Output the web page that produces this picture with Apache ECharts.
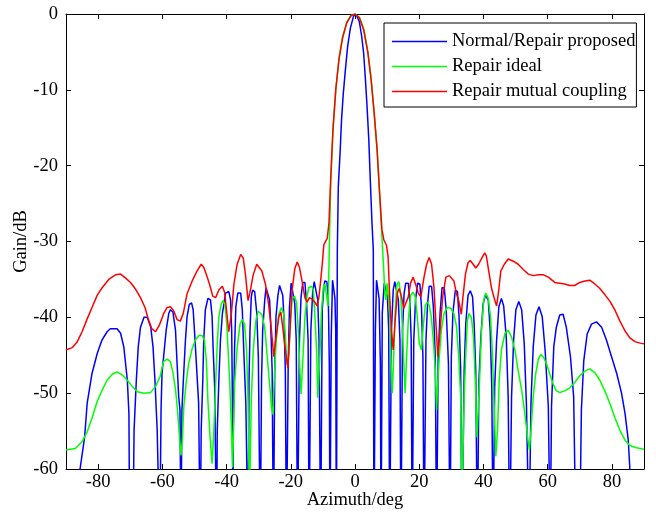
<!DOCTYPE html>
<html>
<head>
<meta charset="utf-8">
<script src="https://cdn.jsdelivr.net/npm/echarts@6/dist/echarts.min.js"></script>
<style>
  html, body { margin: 0; padding: 0; background: #fff; }
  #chart { width: 656px; height: 514px; }
</style>
</head>
<body>
<div id="chart"></div>
<script>
// tick values
const xTicks = [-80, -60, -40, -20, 0, 20, 40, 60, 80]
const seriesNames = ["Normal/Repair proposed", "Repair ideal", "Repair mutual coupling"]

// [azimuth deg, gain dB]
const blueData = [
  [-90,-75],[-86.3,-62],[-84.2,-55.8],[-83.4,-51.3],[-81.9,-47.4],[-80.3,-44.8],[-78.8,-43.0],[-77.2,-41.9],[-76.2,-41.5],[-74.1,-41.5],[-73.0,-42.1],[-72.0,-43.9],[-70.9,-48.3],[-70.4,-52.7],[-70.1,-75],[-69.3,-75],
  [-68.8,-54.9],[-68.1,-48.3],[-67.5,-43.9],[-66.8,-41.3],[-65.7,-40.0],[-64.7,-40.0],[-63.6,-41.3],[-62.9,-43.9],[-62.3,-48.3],[-61.6,-54.9],[-60.8,-70],
  [-60.4,-52.2],[-60.1,-47.4],[-59.6,-45.2],[-58.8,-41.7],[-58.0,-39.5],[-57.5,-39.0],[-56.7,-39.3],[-55.9,-41.7],[-55.4,-46.1],[-54.9,-50.5],[-54.5,-52.2],[-54.2,-70],
  [-53.9,-52.2],[-53.3,-47.0],[-52.8,-43.0],[-52.3,-39.9],[-51.6,-38.3],[-50.9,-38.1],[-50.4,-39.0],[-50.0,-41.7],[-49.4,-46.1],[-48.7,-51.3],[-48.2,-70],
  [-47.9,-54.9],[-47.4,-48.3],[-47.1,-43.0],[-46.6,-39.0],[-45.8,-37.5],[-45.0,-37.7],[-44.5,-39.9],[-44.2,-43.9],[-43.7,-49.2],[-43.1,-70],
  [-42.9,-54.9],[-42.4,-48.3],[-41.9,-43.0],[-41.3,-39.5],[-40.8,-38.2],[-40.3,-36.8],[-39.3,-36.6],[-38.75,-37.7],[-38.4,-41.7],[-38.2,-50],[-38.0,-70],
  [-37.9,-54.9],[-37.5,-43.9],[-37.1,-38.6],[-36.5,-36.8],[-35.6,-36.8],[-35.1,-39.0],[-34.6,-44.8],[-34.0,-51.3],[-33.3,-70],
  [-33.0,-48.3],[-32.7,-41.7],[-32.3,-37.3],[-31.9,-36.4],[-31.25,-36.6],[-30.6,-39.4],[-30.1,-45.2],[-29.5,-70],
  [-29.1,-48],[-28.75,-41.7],[-28.1,-37.7],[-27.7,-36.1],[-27.1,-36.1],[-26.6,-37.7],[-26.25,-40.8],[-25.8,-47.0],[-25.4,-70],
  [-25.0,-47.0],[-24.6,-39.9],[-24.0,-37.1],[-23.5,-35.8],[-23.0,-35.8],[-22.5,-37.1],[-22.1,-40.2],[-21.7,-47],[-21.35,-70],
  [-20.8,-46.1],[-20.4,-38.6],[-19.9,-35.5],[-19.3,-35.5],[-18.75,-38.2],[-18.3,-43.0],[-17.9,-70],
  [-17.3,-43.0],[-16.8,-37.3],[-16.25,-35.4],[-15.6,-35.4],[-15.1,-38.0],[-14.6,-43.0],[-14.3,-70],
  [-13.75,-41.7],[-13.2,-36.8],[-12.7,-35.3],[-12.1,-35.3],[-11.6,-37.7],[-11.2,-43.0],[-10.7,-70],
  [-10.2,-39.0],[-9.7,-36.0],[-9.4,-35.2],[-8.75,-35.3],[-8.3,-37.7],[-8.0,-46.1],[-7.8,-70],
  [-7.4,-42.6],[-7.0,-35.1],[-6.6,-35.1],[-6.25,-37.5],[-6.0,-41.7],[-5.8,-70],
  [-5.5,-31.1],[-5.2,-22.8],[-4.6,-17.9],[-4.2,-14.0],[-3.65,-10.5],[-3.0,-7.4],[-2.3,-4.3],[-1.45,-1.9],[-0.5,-0.35],[0,0],[0.6,-0.3],
  [1.35,-1.0],[2.1,-3.0],[2.7,-5.2],[3.2,-8.3],[3.75,-12.2],[4.3,-16.6],[4.8,-22.3],[5.3,-27.6],[5.7,-31.1],[5.9,-70],
  [6.35,-41.7],[6.7,-35.1],[7.1,-35.1],[7.5,-37.5],[7.9,-46],[8.1,-70],
  [8.5,-39.4],[9.1,-35.5],[9.6,-35.3],[10.1,-37.3],[10.5,-41.7],[10.8,-70],
  [11.35,-41.7],[11.9,-36.4],[12.4,-35.3],[13.0,-35.4],[13.5,-37.7],[14.0,-43.0],[14.3,-70],
  [14.8,-41.7],[15.3,-36.8],[15.8,-35.5],[16.6,-35.5],[17.1,-38.0],[17.5,-43.0],[17.8,-70],
  [18.3,-43.0],[18.85,-37.7],[19.5,-35.5],[20.2,-35.6],[20.7,-38.6],[21.15,-45.2],[21.5,-70],
  [22.1,-43.0],[22.6,-38.2],[23.1,-35.9],[23.85,-35.9],[24.4,-38.6],[25.0,-45.2],[25.4,-70],
  [25.9,-45.2],[26.5,-39.4],[27.1,-36.1],[27.8,-36.1],[28.4,-39.0],[29.1,-46.1],[29.6,-70],
  [30.0,-45.2],[30.5,-39.4],[31.25,-36.4],[31.9,-36.6],[32.4,-39.9],[32.9,-47.0],[33.3,-70],
  [34.0,-47],[34.5,-40.8],[35.2,-37.1],[35.9,-36.5],[36.6,-37.3],[37.1,-40.8],[37.6,-47.0],[38.1,-70],
  [38.6,-48.3],[39.2,-42.6],[39.9,-38.2],[40.6,-37.1],[41.5,-37.7],[42.1,-41.7],[42.6,-49.2],[43.0,-70],
  [43.5,-49.2],[44.1,-43.0],[44.8,-38.6],[45.6,-37.5],[46.3,-38.5],[47.1,-42.6],[47.7,-50.5],[48.2,-70],
  [48.75,-50.5],[49.4,-43.0],[50.1,-39.0],[51.0,-37.9],[51.9,-39.0],[52.7,-43.4],[53.4,-51.7],[54.2,-70],
  [54.8,-51.3],[55.5,-43.9],[56.35,-39.7],[57.3,-38.6],[58.3,-39.9],[59.2,-44.3],[60.2,-51.7],[60.8,-70],
  [61.2,-51.7],[61.9,-43.9],[62.7,-41.3],[63.75,-39.7],[64.8,-39.6],[65.8,-41.3],[67.1,-45.2],[68.1,-50.5],[69.0,-75],[69.8,-75],
  [70.5,-52.2],[71.25,-45.7],[72.3,-42.2],[73.65,-40.9],[75.2,-40.6],[76.8,-41.3],[78.3,-43.0],[79.9,-45.2],[81.5,-47.4],[83.0,-50.0],[84.1,-52.7],[85.1,-56.2],[85.6,-60],[86.5,-66],[90,-75]
]

const greenData = [
  [-90,-57.5],[-87.1,-57.3],[-85,-56.4],[-83.4,-55.1],[-81.9,-53.3],[-80.3,-51.1],[-78.75,-49.6],[-77.2,-48.3],[-75.6,-47.5],[-74.1,-47.2],[-72.5,-47.6],[-70.9,-48.3],[-69.4,-49.1],[-67.8,-49.8],[-65.7,-50.0],[-63.6,-49.9],[-62.1,-49.1],[-60.7,-47.8],
  [-60.0,-46.5],[-59.6,-45.8],[-58.5,-45.5],[-57.5,-45.8],[-56.7,-47.3],[-55.9,-49.5],[-55.2,-52.6],[-54.6,-56.1],[-54.2,-58.2],[-53.75,-56.1],[-53.3,-51.7],[-52.5,-48.3],[-51.8,-46.1],[-50.7,-44.1],[-49.7,-43.0],[-48.6,-42.4],[-47.6,-42.4],[-46.9,-43.0],[-46.3,-45.7],[-45.8,-51.0],[-45.2,-55.4],[-44.5,-59.3],[-44.0,-55.4],[-43.4,-48.8],[-42.9,-43.5],[-42.4,-40.0],[-41.7,-38.3],[-41.1,-37.8],[-40.5,-38.3],[-40.0,-40.5],[-39.5,-44.4],[-39.0,-48.8],[-38.4,-55.4],[-38.1,-59.8],
  [-37.5,-48.8],[-36.7,-44],[-35.8,-40.9],[-35.1,-40.3],[-34.4,-40.9],[-33.75,-44.4],[-33.3,-51.0],[-32.9,-65],[-32.3,-51.0],[-31.7,-44.4],[-30.9,-40.5],[-30.2,-39.2],[-29.6,-39.2],[-29.0,-39.6],[-28.1,-41.4],[-27.4,-44.9],[-26.6,-48.8],[-26.0,-51.9],[-25.6,-52.8],[-25.2,-48.8],[-24.6,-43.5],[-23.75,-39.6],[-22.9,-38.7],[-22.2,-39.6],[-21.7,-42.3],[-21.2,-46.2],[-20.6,-44.9],[-20.1,-40.5],[-19.6,-37.6],[-18.8,-37.2],[-18.2,-38.1],[-17.7,-41.4],[-17.2,-46.6],[-16.8,-50.1],[-16.25,-45.7],[-15.6,-40.0],[-14.9,-37.2],[-14.4,-36.1],[-13.5,-35.9],[-13.0,-36.3],[-12.5,-39.6],[-11.95,-44.4],[-11.6,-50.6],[-11.0,-45.7],[-10.5,-39.6],[-9.9,-36.1],[-9.4,-35.6],[-8.85,-37.2],[-8.4,-38.5],[-8.1,-33],
  [-7.9,-28.5],[-7.5,-21.5],[-6.8,-14.9],[-5.9,-9.6],[-4.9,-5.6],[-3.85,-3.0],[-2.5,-1.0],[-1.25,-0.2],[0,0],[1.35,-0.4],[2.7,-1.9],[4.0,-4.9],[5.0,-8.4],[6.0,-13.2],[6.9,-18.0],[7.7,-24.2],[8.4,-29.4],
  [9.0,-34.2],[9.3,-36.8],[9.6,-37.7],[10.0,-35.5],[10.4,-35.3],[10.8,-39.4],[11.25,-46.0],[11.6,-50.0],[12.0,-46.0],[12.5,-39.4],[13.0,-35.7],[13.65,-35.3],[14.2,-36.8],[14.7,-40.8],[15.2,-46.0],[15.6,-50.0],[16.0,-46.0],[16.6,-40.4],[17.3,-37.1],[18.1,-36.7],[18.75,-37.3],[19.4,-39.9],[20.0,-43.4],[20.7,-44.3],[21.25,-41.2],[21.9,-38.4],[22.5,-38.0],[23.1,-38.4],[23.75,-39.9],[24.4,-43.0],[25.0,-47.0],[25.4,-52.2],[25.7,-49.2],[26.25,-45.2],[26.9,-41.7],[27.7,-39.5],[28.75,-38.7],[29.8,-38.8],[30.8,-39.5],[31.6,-41.2],[32.3,-45.2],[32.9,-50.5],[33.3,-65],
  [34.0,-50.5],[34.5,-44.8],[35.0,-40.4],[35.5,-39.5],[36.25,-40.0],[36.9,-42.6],[37.5,-48.8],[38.0,-55.8],[38.3,-55.8],[38.8,-48.3],[39.4,-41.7],[40.1,-37.7],[40.7,-36.8],[41.5,-37.5],[42.2,-39.9],[42.8,-44.8],[43.3,-51.3],[43.85,-58.3],[44.4,-54.9],[44.9,-48.3],[45.6,-44.3],[46.7,-42.1],[47.7,-41.7],[48.75,-42.6],[49.8,-44.3],[50.8,-47.0],[51.9,-49.6],[52.9,-52.7],[53.75,-55.8],[54.3,-57.5],[54.8,-54.9],[55.5,-50.5],[56.25,-47.5],[57.1,-45.5],[57.9,-44.9],[58.75,-45.3],[59.7,-46.2],
  [60.6,-47.4],[61.7,-48.8],[62.7,-49.7],[63.75,-49.9],[65.3,-49.7],[66.9,-49.3],[68.4,-48.6],[70.0,-47.7],[71.6,-47.1],[73.1,-46.8],[74.7,-47.3],[76.25,-48.3],[77.8,-49.7],[79.4,-51.4],[80.9,-53.2],[82.5,-54.9],[84.1,-56.2],[85.6,-56.9],[87.7,-57.2],[90,-57.4]
]

const redData = [
  [-90,-44.3],[-88.1,-44.0],[-86.6,-43.3],[-85.0,-41.9],[-83.4,-40.2],[-81.9,-38.7],[-80.3,-37.1],[-78.75,-36.1],[-76.7,-35.0],[-74.6,-34.4],[-73.0,-34.3],[-71.5,-34.8],[-69.9,-35.4],[-68.3,-36.3],[-66.8,-37.4],[-65.4,-38.7],[-64.4,-40.2],[-63.3,-41.5],[-62.1,-41.9],[-61.0,-41.1],
  [-60.0,-40.0],[-59.6,-39.5],[-58.5,-38.7],[-57.5,-38.6],[-56.5,-39.1],[-55.4,-40.3],[-54.4,-40.5],[-53.5,-39.5],[-52.3,-36.9],[-50.7,-35.2],[-49.2,-33.9],[-47.9,-33.0],[-47.1,-33.4],[-46.0,-34.7],[-45.0,-36.1],[-44.3,-37.2],[-43.4,-37.4],[-42.4,-36.4],[-41.3,-35.9],[-40.6,-36.7],[-40.0,-39.1],[-39.3,-41.9],[-38.5,-39.5],[-37.7,-35.6],[-36.7,-33.0],[-35.6,-31.7],[-34.8,-32.2],[-34.1,-34.4],[-33.3,-37.8],[-32.7,-36.7],[-31.7,-34.4],[-30.6,-33.0],
  [-30.0,-33.0],[-29.0,-33.9],[-27.9,-35.6],[-26.9,-38.3],[-26.0,-41.8],[-25.3,-45.2],[-24.6,-42.6],[-23.75,-40.0],[-23.1,-39.3],[-22.5,-41.3],[-21.7,-44.3],[-20.9,-46.7],[-20.4,-43.0],[-19.6,-36.4],[-18.75,-33.6],[-18.0,-32.7],[-17.3,-33.4],[-16.5,-35.2],[-15.6,-37.4],[-14.9,-38.0],[-14.2,-37.4],[-13.3,-37.6],[-12.5,-38.0],[-11.8,-38.5],[-11.25,-37.4],[-10.7,-35.2],[-10.2,-33.0],[-9.7,-30.4],[-9.2,-30.2],[-8.65,-29.6],
  [-8.1,-27.5],[-7.6,-22],[-6.9,-15.5],[-6.0,-10],[-5.0,-6.0],[-3.9,-3.2],[-2.6,-1.2],[-1.3,-0.25],[0,0],[1.35,-0.5],[2.7,-2.1],[4.0,-5.1],[5.0,-8.6],[6.0,-13.2],[6.9,-18.0],[7.7,-23.8],[8.4,-28.5],
  [9.0,-29.8],[9.8,-30.5],[10.3,-32.0],[10.8,-37.3],[11.35,-41.7],[11.9,-44.3],[12.5,-40.4],[13.2,-36.8],[13.75,-36.2],[14.5,-37.3],[15.2,-38.8],[15.8,-39.0],[16.6,-37.3],[17.3,-35.5],[18.1,-34.7],[19.0,-35.8],[19.7,-36.8],[20.5,-37.3],[21.5,-34.7],[22.3,-33.0],[23.1,-32.1],[23.85,-33.0],[24.6,-36.1],[25.2,-40.8],[25.8,-45.2],[26.5,-41.7],[27.3,-37.3],[28.3,-34.7],[29.4,-34.5],
  [30.0,-34.5],[30.8,-35.2],[31.6,-36.9],[32.3,-37.8],[33.1,-39.6],[33.6,-37.4],[34.4,-34.3],[35.2,-32.8],[35.9,-32.5],[36.8,-33.0],[37.6,-33.5],[38.5,-33.0],[39.6,-32.1],[40.4,-31.5],[40.9,-31.9],[41.65,-33.9],[42.5,-36.1],[43.3,-37.4],[44.1,-38.5],[44.8,-36.3],[45.4,-33.9],[46.5,-33.0],[47.7,-32.3],[49.3,-32.6],[50.8,-33.0],[52.4,-33.7],[54.0,-34.3],[55.5,-34.5],[57.1,-34.4],[58.7,-34.4],
  [60.2,-34.7],[62.2,-35.4],[63.75,-35.5],[65.3,-35.6],[66.9,-35.8],[68.4,-35.8],[70.0,-35.4],[71.6,-35.2],[73.1,-35.1],[74.7,-35.6],[76.25,-36.2],[77.8,-37.0],[79.4,-37.9],[80.9,-39.0],[82.5,-40.5],[84.1,-41.8],[85.6,-42.7],[87.2,-43.2],[88.75,-43.4],[90,-43.5]
]

const colors = ["#0000ff", "#00ff00", "#ff0000"]
const font = "Liberation Serif"
const fontSize = 18.5

const chart = echarts.init(document.getElementById("chart"))

const axisCommon = {
  axisLine: { show: true, onZero: false, lineStyle: { color: "#000", width: 1 } },
  splitLine: { show: false }
}

const options = {
  animation: false,
  textStyle: { fontFamily: font },
  grid: { left: 66, right: 12, top: 14, bottom: 45, outerBoundsMode: "none" },
  legend: {
    orient: "vertical",
    left: 384,
    top: 23,
    data: seriesNames,
    icon: "rect",
    itemWidth: 55,
    itemHeight: 1.5,
    itemGap: 6,
    padding: [9, 1, 6, 8],
    borderColor: "#000",
    borderWidth: 1,
    backgroundColor: "#fff",
    textStyle: { fontFamily: font, fontSize: fontSize, color: "#000" }
  },
  xAxis: [
    {
      ...axisCommon,
      type: "value",
      min: -90,
      max: 90,
      name: "Azimuth/deg",
      nameLocation: "middle",
      nameGap: 22,
      nameMoveOverlap: false,
      nameTextStyle: { fontFamily: font, fontSize: fontSize, color: "#000" },
      axisTick: { inside: true, length: 5, customValues: xTicks, lineStyle: { color: "#000" } },
      axisLabel: { customValues: xTicks, margin: 4, fontFamily: font, fontSize: fontSize, color: "#000" }
    },
    {
      ...axisCommon,
      type: "value",
      position: "top",
      min: -90,
      max: 90,
      axisTick: { inside: true, length: 5, customValues: xTicks, lineStyle: { color: "#000" } },
      axisLabel: { show: false }
    }
  ],
  yAxis: [
    {
      ...axisCommon,
      type: "value",
      min: -60,
      max: 0,
      interval: 10,
      name: "Gain/dB",
      nameLocation: "middle",
      nameGap: 35,
      nameMoveOverlap: false,
      nameTextStyle: { fontFamily: font, fontSize: fontSize, color: "#000" },
      axisTick: { inside: true, length: 5, lineStyle: { color: "#000" } },
      axisLabel: { margin: 8, fontFamily: font, fontSize: fontSize, color: "#000" }
    },
    {
      ...axisCommon,
      type: "value",
      position: "right",
      min: -60,
      max: 0,
      interval: 10,
      axisTick: { inside: true, length: 5, lineStyle: { color: "#000" } },
      axisLabel: { show: false }
    }
  ],
  series: [blueData, greenData, redData].map((d, i) => ({
    name: seriesNames[i],
    type: "line",
    data: d,
    showSymbol: false,
    symbol: "none",
    clip: true,
    color: colors[i],
    lineStyle: { color: colors[i], width: 1.5 }
  }))
}

chart.setOption(options)
</script>
</body>
</html>
